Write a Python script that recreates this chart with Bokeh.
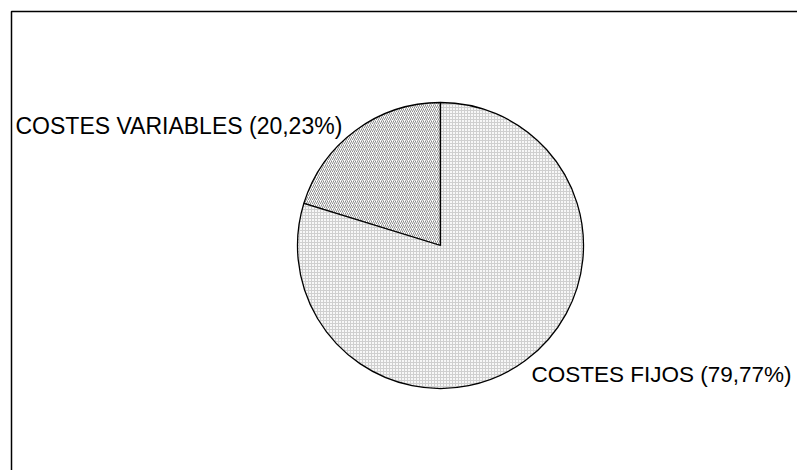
import math
from bokeh.plotting import figure
from bokeh.models import Range1d
from bokeh.core.properties import value
from bokeh.embed import file_html
from bokeh.resources import INLINE

# data
categories = ["COSTES VARIABLES", "COSTES FIJOS"]
shares = [20.23, 79.77]
label_texts = ["COSTES VARIABLES (20,23%)", "COSTES FIJOS (79,77%)"]

W, H = 797, 470
p = figure(width=W, height=H, output_backend="svg", toolbar_location=None,
           x_range=Range1d(0, W), y_range=Range1d(0, H), min_border=0,
           background_fill_color="white", border_fill_color="white")
p.axis.visible = False
p.grid.visible = False
p.outline_line_color = None

# frame (left and top edges of the chart area)
p.line(x=[11, 11, W], y=[0, H - 11, H - 11], line_color="black", line_width=1.5)

cx, cy, r = 440, H - 245, 143
total = sum(shares)
start = math.pi / 2
angles = []
for s in shares:
    end = start + 2 * math.pi * s / total
    angles.append((start, end))
    start = end

styles = [
    dict(fill_color="white", hatch_pattern="/", hatch_color="#8c8c8c", hatch_scale=4, hatch_weight=1),
    dict(fill_color="#f7f7f7", hatch_pattern="+", hatch_color="#cfcfcf", hatch_scale=3, hatch_weight=1),
]
for (a0, a1), st in zip(angles, styles):
    p.wedge(x=cx, y=cy, radius=r, start_angle=a0, end_angle=a1, direction="anticlock",
            line_color="black", line_width=1.3, **st)

label_pos = [(15, H - 125, "23px"), (531, H - 374, "22.5px")]
for t, (lx, ly, fs) in zip(label_texts, label_pos):
    p.text(x=[lx], y=[ly], text=[t], text_font=value("Liberation Sans"),
           text_font_size=fs, text_color="black",
           text_align="left", text_baseline="alphabetic")

open("out.html", "w").write(file_html(p, INLINE))
